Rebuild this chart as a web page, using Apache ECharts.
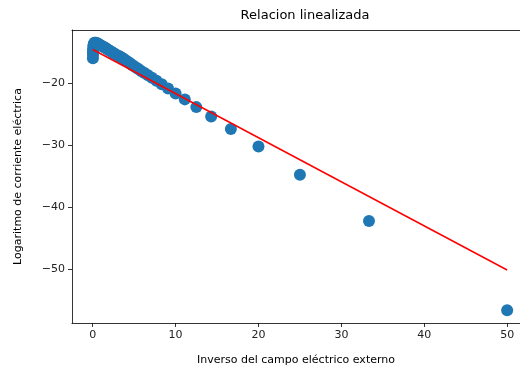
<!DOCTYPE html>
<html>
<head>
<meta charset="utf-8">
<script src="https://cdn.jsdelivr.net/npm/echarts@6/dist/echarts.min.js"></script>
<style>
  html, body { margin: 0; padding: 0; background: #fff; }
  #chart { width: 520px; height: 367px; }
</style>
</head>
<body>
<div id="chart"></div>
<script>
// inverso del campo (1/E)
var xInv = [0.02, 0.03, 0.04, 0.05, 0.06, 0.08, 0.1, 0.13, 0.17, 0.22, 0.3, 0.4, 0.55, 0.7, 0.85,
    1.0, 1.2, 1.4, 1.6, 1.8, 2.0, 2.25, 2.5, 2.75, 3.0, 3.2, 3.33, 3.45, 3.57, 3.7, 3.85,
    4.0, 4.17, 4.35, 4.55, 4.76, 5.0, 5.26, 5.56, 5.88, 6.25, 6.67, 7.14, 7.69, 8.33, 9.09,
    10, 11.11, 12.5, 14.29, 16.67, 20, 25, 33.33, 50];
// logaritmo de la corriente
var yLog = [-15.9, -15.4, -15.0, -14.7, -14.45, -14.1, -13.85, -13.65, -13.5, -13.42, -13.4, -13.42, -13.5, -13.6, -13.72,
    -13.85, -14.0, -14.15, -14.3, -14.5, -14.65, -14.85, -15.05, -15.25, -15.45, -15.6, -15.7, -15.8, -15.9, -16.0, -16.15,
    -16.3, -16.45, -16.6, -16.8, -17.0, -17.2, -17.45, -17.7, -18.0, -18.3, -18.65, -19.05, -19.55, -20.1, -20.8,
    -21.6, -22.55, -23.8, -25.3, -27.35, -30.15, -34.7, -42.2, -56.6];
// recta ajustada
var fitX = [0, 50];
var fitY = [-14.5, -50.1];

var xTicks = [0, 10, 20, 30, 40, 50];
var yTicks = [-50, -40, -30, -20];

var chart = echarts.init(document.getElementById('chart'));

function minus(v) {
    return String(v).replace('-', '\u2212');
}

// el eje x sigue más allá del borde derecho (recortado en la imagen)
var xMin = -2.5, xMax = 51.55;
var spine = { color: '#000', width: 0.8 };

var option = {
    animation: false,
    backgroundColor: '#fff',
    textStyle: { fontFamily: 'DejaVu Sans' },
    title: {
        text: 'Relacion linealizada',
        left: 300,
        top: 4,
        textAlign: 'center',
        textStyle: { fontSize: 13, fontWeight: 'normal', color: '#000', fontFamily: 'DejaVu Sans' }
    },
    grid: {
        left: 72, top: 30, width: 448, height: 293,
        outerBoundsMode: 'none',
        containLabel: false,
        show: false
    },
    xAxis: [{
        type: 'value',
        min: xMin, max: xMax,
        name: 'Inverso del campo eléctrico externo',
        nameLocation: 'middle',
        nameGap: 32,
        nameTextStyle: { fontSize: 11, color: '#000' },
        axisLine: { onZero: false, lineStyle: spine },
        axisTick: { length: 4, lineStyle: spine, customValues: xTicks },
        axisLabel: { fontSize: 11, color: '#222', margin: 7, customValues: xTicks, formatter: minus },
        splitLine: { show: false }
    }, {
        type: 'value',
        position: 'top',
        min: xMin, max: xMax,
        axisLine: { show: true, onZero: false, lineStyle: spine },
        axisTick: { show: false },
        axisLabel: { show: false },
        splitLine: { show: false }
    }],
    yAxis: {
        type: 'value',
        min: -58.65, max: -11.35,
        name: 'Logaritmo de corriente eléctrica',
        nameLocation: 'middle',
        nameGap: 48,
        nameTextStyle: { fontSize: 11, color: '#000' },
        axisLine: { show: true, onZero: false, lineStyle: spine },
        axisTick: { show: true, length: 4, lineStyle: spine, customValues: yTicks },
        axisLabel: { fontSize: 11, color: '#222', margin: 7, customValues: yTicks, formatter: minus },
        splitLine: { show: false }
    },
    series: [{
        type: 'scatter',
        data: xInv.map(function (x, i) { return [x, yLog[i]]; }),
        symbolSize: 12,
        itemStyle: { color: '#1f77b4', opacity: 1 },
        z: 2
    }, {
        type: 'line',
        data: fitX.map(function (x, i) { return [x, fitY[i]]; }),
        showSymbol: false,
        symbol: 'none',
        lineStyle: { color: 'red', width: 1.5 },
        z: 3
    }]
};

chart.setOption(option);
</script>
</body>
</html>
